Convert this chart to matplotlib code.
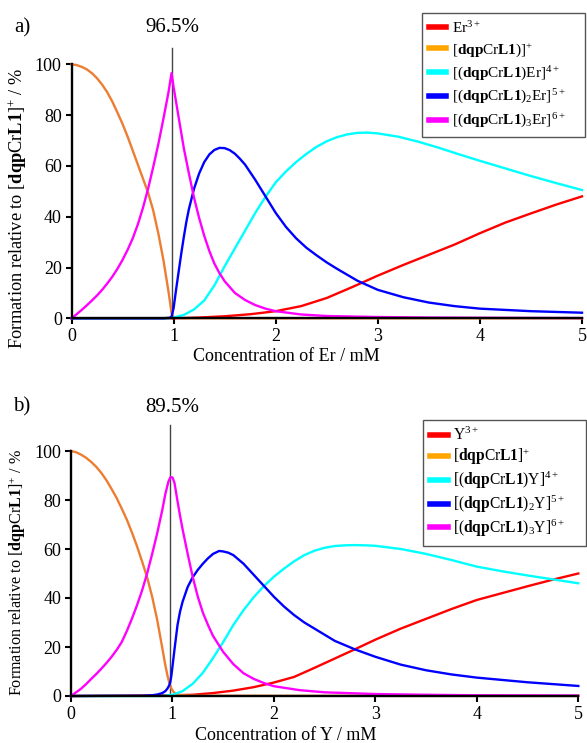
"""
Speciation plots of dqpCrL1 titrated with Er(III) and Y(III).
"""

import matplotlib.pyplot as plt
from matplotlib.lines import Line2D

# ---- panel a) Er ----
red_a_x = [0, 1.0, 1.25, 1.5, 1.75, 2.0, 2.25, 2.5, 2.75, 3.0, 3.25, 3.5, 3.75, 4.0, 4.25, 4.5, 4.75, 5.0]
red_a_y = [0, 0, 0.3, 0.8, 1.6, 2.8, 4.8, 8, 12.3, 16.8, 21, 25, 29, 33.5, 37.7, 41.3, 44.8, 48]

orange_a_x = [0, 0.05, 0.1, 0.15, 0.2, 0.25, 0.3, 0.35, 0.4, 0.45, 0.5, 0.55, 0.6, 0.65, 0.7, 0.75, 0.8,
              0.85, 0.9, 0.93, 0.95, 0.97, 0.98, 1.0, 1.05, 1.1, 5.0]
orange_a_y = [100, 99.7, 99, 98, 96.5, 94.5, 92, 89, 85.3, 81, 76.5, 71.5, 66, 60.5, 55, 49.5, 42.5,
              33.5, 23, 15.5, 10.5, 5, 2, 0.5, 0.2, 0, 0]

cyan_a_x = [0, 0.95, 1.0, 1.1, 1.2, 1.3, 1.4, 1.5, 1.6, 1.7, 1.8, 1.9, 2.0, 2.1, 2.2, 2.3, 2.4, 2.5, 2.6,
            2.7, 2.8, 2.9, 3.0, 3.2, 3.4, 3.6, 3.8, 4.0, 4.25, 4.5, 4.75, 5.0]
cyan_a_y = [0, 0, 0.3, 1.3, 3.5, 7, 13, 20.5, 27.5, 34.5, 41.5, 47.8, 53.5, 57.8, 61.5, 64.7, 67.5, 69.7, 71.3,
            72.4, 73, 73.1, 72.8, 71.5, 69.5, 67.1, 64.5, 62, 59, 56, 53.2, 50.5]

blue_a_x = [0, 0.9, 0.96, 0.98, 1.0, 1.025, 1.05, 1.075, 1.1, 1.125, 1.15, 1.2, 1.25, 1.3, 1.35, 1.4, 1.45,
            1.5, 1.55, 1.6, 1.65, 1.7, 1.8, 1.9, 2.0, 2.1, 2.2, 2.3, 2.4, 2.5, 2.6, 2.8, 3.0, 3.25, 3.5,
            3.75, 4.0, 4.5, 5.0]
blue_a_y = [0, 0, 0.2, 0.6, 4, 11.5, 18.5, 25.5, 32, 38, 43, 51, 57, 61.5, 64.5, 66.3, 67.1,
            67, 66.2, 64.8, 62.8, 60.5, 54.5, 48, 41.5, 36, 31.5, 27.8, 24.8, 22, 19.5, 14.8, 11.2, 8.3, 6.2,
            4.8, 3.8, 2.8, 2.2]

magenta_a_x = [0, 0.05, 0.1, 0.15, 0.2, 0.25, 0.3, 0.35, 0.4, 0.45, 0.5, 0.55, 0.6, 0.65, 0.7, 0.75, 0.8,
               0.85, 0.9, 0.95, 0.98, 1.0, 1.025, 1.05, 1.075, 1.1, 1.15, 1.2, 1.25, 1.3, 1.35, 1.4, 1.45,
               1.5, 1.6, 1.7, 1.8, 1.9, 2.0, 2.25, 2.5, 3.0, 3.5, 4.0, 5.0]
magenta_a_y = [0, 1.6, 3.3, 5.1, 7, 9, 11.2, 13.7, 16.4, 19.5, 23, 27, 31.5, 37, 43.5, 51, 59.5,
               68.5, 78.5, 89, 96.5, 91, 85, 79, 73, 67, 57, 47.5, 39.5, 32.5, 26.5, 21.5, 17.7,
               14.6, 10, 7.2, 5.2, 3.8, 2.8, 1.5, 0.9, 0.5, 0.3, 0.2, 0.1]

# ---- panel b) Y ----
red_b_x = [0, 1.0, 1.2, 1.4, 1.6, 1.8, 2.0, 2.2, 2.4, 2.6, 2.8, 3.0, 3.25, 3.5, 3.75, 4.0, 4.25, 4.5, 4.75, 5.0]
red_b_y = [0, 0.3, 0.5, 1.2, 2.2, 3.6, 5.5, 7.8, 11.5, 15.3, 19.1, 23, 27.5, 31.5, 35.5, 39.2, 42, 44.8, 47.5, 50]

orange_b_x = [0, 0.05, 0.1, 0.15, 0.2, 0.25, 0.3, 0.35, 0.4, 0.45, 0.5, 0.55, 0.6, 0.65, 0.7, 0.75, 0.8,
              0.85, 0.9, 0.93, 0.95, 0.97, 0.99, 1.01, 1.04, 1.08, 1.15, 1.3, 5.0]
orange_b_y = [100, 99.5, 98.5, 97.2, 95.5, 93.5, 91, 88, 84.5, 80.8, 76.5, 72, 66.8, 61.2, 55, 48.5, 40.5,
              31, 19.5, 12.5, 8.5, 5.2, 3, 1.7, 0.8, 0.4, 0.2, 0.1, 0]

cyan_b_x = [0, 0.9, 1.0, 1.1, 1.2, 1.3, 1.4, 1.5, 1.6, 1.7, 1.8, 1.9, 2.0, 2.1, 2.2, 2.3, 2.4, 2.5, 2.6,
            2.7, 2.8, 2.9, 3.0, 3.25, 3.5, 3.75, 4.0, 4.25, 4.5, 4.75, 5.0]
cyan_b_y = [0, 0, 0.5, 2, 5, 9.5, 15.5, 22, 29, 35, 40.3, 44.8, 48.7, 52, 55, 57.5, 59.3, 60.5, 61.2,
            61.5, 61.6, 61.5, 61.3, 60, 58, 55.5, 52.8, 50.9, 49.2, 47.6, 46]

blue_b_x = [0, 0.7, 0.8, 0.85, 0.9, 0.93, 0.95, 0.97, 0.98, 0.99, 1.0, 1.02, 1.05, 1.075, 1.1, 1.15, 1.2,
            1.25, 1.3, 1.35, 1.4, 1.46, 1.5, 1.55, 1.6, 1.7, 1.8, 1.9, 2.0, 2.1, 2.2, 2.3, 2.4, 2.5, 2.6,
            2.8, 3.0, 3.25, 3.5, 3.75, 4.0, 4.5, 5.0]
blue_b_y = [0, 0.1, 0.3, 0.6, 1.2, 2, 3, 4.5, 6, 8.5, 12, 19, 29, 34.5, 38.5, 44.5, 48.5,
            51.5, 54, 56.2, 58, 59.2, 59, 58.5, 57.5, 54, 49.5, 45, 40.5, 36.5, 33, 30, 27.5, 25, 22.5,
            19, 16, 12.8, 10.5, 8.8, 7.5, 5.6, 4.1]

magenta_b_x = [0, 0.05, 0.1, 0.15, 0.2, 0.25, 0.3, 0.35, 0.4, 0.45, 0.5, 0.55, 0.6, 0.65, 0.7, 0.75, 0.8,
               0.85, 0.9, 0.93, 0.96, 0.98, 1.0, 1.02, 1.05, 1.075, 1.1, 1.15, 1.2, 1.25, 1.3, 1.35, 1.4,
               1.5, 1.6, 1.7, 1.8, 1.9, 2.0, 2.25, 2.5, 3.0, 3.5, 4.0, 5.0]
magenta_b_y = [0, 1.5, 3, 4.9, 7, 9, 11.2, 13.5, 16, 18.8, 22, 26.5, 31.5, 37, 43, 50, 58,
               66.5, 76, 82.5, 87.5, 89.3, 89.2, 87, 79.5, 73.5, 68, 58, 48.5, 40.5, 34, 29, 24.5,
               18, 13, 9.3, 7, 5.3, 4, 2.4, 1.5, 0.8, 0.5, 0.3, 0.2]

peak_x = [0.98, 0.98]
peak_top = [106.5, 110.5]
peak_text = ["96.5%", "89.5%"]
panel_tags = ["a)", "b)"]
metals = ["Er", "Y"]

COLORS = ["#FF0000", "#ED7D31", "#00FFFF", "#0000FF", "#FF00FF"]
LEGEND_COLORS = ["#FF0000", "#FFA500", "#00FFFF", "#0000FF", "#FF00FF"]

LIG = r"$\mathbf{dqp}$Cr$\mathbf{L1}$"

plt.rcParams["font.family"] = ["Liberation Serif", "DejaVu Serif"]
plt.rcParams["mathtext.fontset"] = "custom"
plt.rcParams["mathtext.rm"] = "Liberation Serif"
plt.rcParams["mathtext.bf"] = "Liberation Serif:bold"
plt.rcParams["mathtext.it"] = "Liberation Serif:italic"

W, H = 587, 743


def legend_labels(metal, typo=False):
    free = "[" + LIG + (")]" if typo else "]") + r"$^{+}$"
    return [
        metal + r"$^{3+}$",
        free,
        "[(" + LIG + ")" + metal + r"]$^{4+}$",
        "[(" + LIG + r")$_{2}$" + metal + r"]$^{5+}$",
        "[(" + LIG + r")$_{3}$" + metal + r"]$^{6+}$",
    ]


def draw_panel(fig, rect, series, metal, idx, cfg):
    ax = fig.add_axes(rect)
    for (xs, ys), c in zip(series, COLORS):
        ax.plot(xs, ys, color=c, lw=1.7, clip_on=False)

    ax.plot([peak_x[idx]] * 2, [0, peak_top[idx]], color="#444444", lw=1.0, clip_on=False, zorder=1)

    ax.set_xlim(0, 5)
    ax.set_ylim(0, 100)
    ax.set_xticks(range(0, 6))
    ax.set_yticks(range(0, 101, 20))
    ax.spines["top"].set_visible(False)
    ax.spines["right"].set_visible(False)
    for s in ("left", "bottom"):
        ax.spines[s].set_linewidth(1.7)
        ax.spines[s].set_color("black")
    ax.tick_params(direction="out", length=4, width=1.5, labelsize=13, pad=3)

    ax.set_xlabel(f"Concentration of {metal} / mM", fontsize=13)
    ax.xaxis.set_label_coords(*cfg["xlab"])
    ax.set_ylabel("Formation relative to [" + LIG + r"]$^{+}$ / %", fontsize=cfg["ylab_size"])
    ax.yaxis.set_label_coords(*cfg["ylab"])

    # legend box spans a fixed width (mode="expand"), text left aligned
    lx, ly, lw = cfg["leg"]
    handles = [Line2D([], [], color=c, lw=4) for c in LEGEND_COLORS]
    leg = fig.legend(handles, legend_labels(metal, idx == 0), loc="upper left",
                     bbox_to_anchor=(lx, ly - 0.01, lw, 0.01), bbox_transform=fig.transFigure,
                     mode="expand", fontsize=cfg["leg_size"], handlelength=1.15,
                     handletextpad=0.35, labelspacing=cfg["leg_space"], borderpad=0.45,
                     fancybox=False, framealpha=1, borderaxespad=0)
    leg.get_frame().set_edgecolor("#555555")
    leg.get_frame().set_linewidth(1.0)

    ty = 1 - cfg["text_y"] / H
    fig.text(22 / W, ty, panel_tags[idx], fontsize=15, ha="center", va="center")
    fig.text(172 / W, ty, peak_text[idx], fontsize=15, ha="center", va="center")
    return ax


fig = plt.figure(figsize=(W / 100, H / 100), dpi=100)

series_a = [(red_a_x, red_a_y), (orange_a_x, orange_a_y), (cyan_a_x, cyan_a_y),
            (blue_a_x, blue_a_y), (magenta_a_x, magenta_a_y)]
series_b = [(red_b_x, red_b_y), (orange_b_x, orange_b_y), (cyan_b_x, cyan_b_y),
            (blue_b_x, blue_b_y), (magenta_b_x, magenta_b_y)]

cfg_a = {"xlab": (0.421, -0.118), "ylab": (-0.083, 0.434), "ylab_size": 13.2,
         "leg": (422 / W, 1 - 13 / H, 163 / W), "leg_size": 11, "leg_space": 0.36, "text_y": 28}
cfg_b = {"xlab": (0.424, -0.125), "ylab": (-0.085, 0.506), "ylab_size": 11.6,
         "leg": (423 / W, 1 - 420 / H, 163 / W), "leg_size": 11.2, "leg_space": 0.16, "text_y": 407}

draw_panel(fig, [71.5 / W, 1 - 318.3 / H, 510.5 / W, 254 / H], series_a, metals[0], 0, cfg_a)
draw_panel(fig, [71 / W, 1 - 696 / H, 507.3 / W, 245 / H], series_b, metals[1], 1, cfg_b)

fig.savefig("out.png", dpi=100)
